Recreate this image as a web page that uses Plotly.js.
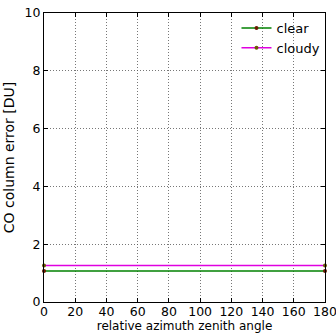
<!DOCTYPE html>
<html>
<head>
<meta charset="utf-8">
<script src="https://cdn.plot.ly/plotly-3.0.1.min.js"></script>
<style>
  html, body { margin: 0; padding: 0; background: #fff; }
  #chart { width: 336px; height: 333px; }
</style>
</head>
<body>
<div id="chart"></div>
<script>
// Relative azimuth angle samples (degrees)
const angles = [0, 180];
// CO column error for each sky condition [DU]
const clearError = [1.07, 1.07];
const cloudyError = [1.26, 1.26];
const xTicks = [0, 20, 40, 60, 80, 100, 120, 140, 160, 180];
const yTicks = [0, 2, 4, 6, 8, 10];

const font = { family: 'DejaVu Sans, sans-serif', size: 13, color: '#000' };
const tickFont = Object.assign({}, font, { size: 12.5 });

const traces = [
  {
    x: angles, y: clearError, name: 'clear', mode: 'lines+markers',
    line: { color: '#008000', width: 1.5 },
    marker: { color: '#6b1a00', size: 4 },
    cliponaxis: false
  },
  {
    x: angles, y: cloudyError, name: 'cloudy', mode: 'lines+markers',
    line: { color: '#e000e0', width: 1.5 },
    marker: { color: '#6b5a00', size: 4 },
    cliponaxis: false
  }
];

const axisCommon = {
  showline: true, linecolor: '#000', linewidth: 1, mirror: 'ticks',
  ticks: 'inside', ticklen: 4, tickcolor: '#000',
  showgrid: true, gridcolor: '#555', griddash: '1px,2px', gridwidth: 0.8,
  zeroline: false, tickfont: tickFont, ticklabeloverflow: 'allow'
};

const layout = {
  width: 336, height: 333,
  margin: { l: 44, r: 10.5, t: 13, b: 31 },
  paper_bgcolor: '#fff', plot_bgcolor: '#fff',
  font: font,
  showlegend: true,
  legend: {
    x: 0.685, y: 1.0, xanchor: 'left', yanchor: 'top',
    bgcolor: 'rgba(255,255,255,0)', borderwidth: 0,
    font: font, itemwidth: 30, tracegroupgap: 0
  },
  xaxis: Object.assign({}, axisCommon, {
    range: [0, 180], tickvals: xTicks, ticktext: xTicks.map(String),
    ticklabelstandoff: -2,
    title: { text: 'relative azimuth zenith angle', font: Object.assign({}, font, { size: 12 }), standoff: 5 }
  }),
  yaxis: Object.assign({}, axisCommon, {
    range: [0, 10], tickvals: yTicks, ticktext: yTicks.map(String),
    title: { text: 'CO column error [DU]', font: Object.assign({}, font, { size: 14 }), standoff: 6 }
  })
};

Plotly.newPlot('chart', traces, layout, { displayModeBar: false, staticPlot: true });
</script>
</body>
</html>
